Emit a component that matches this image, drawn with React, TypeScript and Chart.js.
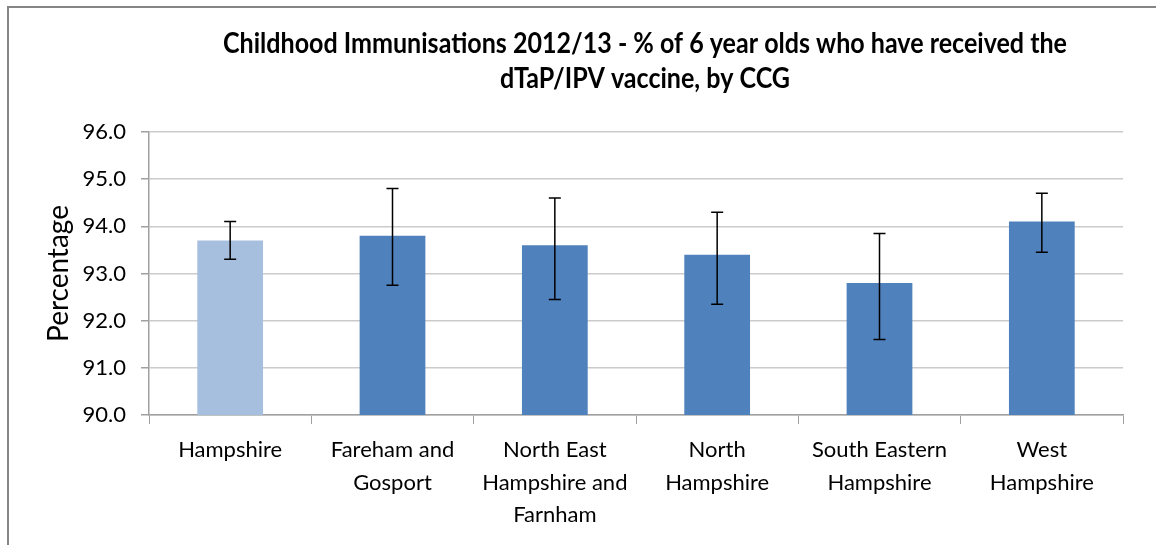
import React, { useEffect, useRef } from "react";
import { Chart, registerables } from "chart.js";

Chart.register(...registerables);

const titleLines = [
  "Childhood Immunisations 2012/13 - % of 6 year olds who have received the",
  "dTaP/IPV vaccine, by CCG",
];
const categories = [
  ["Hampshire"],
  ["Fareham and", "Gosport"],
  ["North East", "Hampshire and", "Farnham"],
  ["North", "Hampshire"],
  ["South Eastern", "Hampshire"],
  ["West", "Hampshire"],
];
const values = [93.7, 93.8, 93.6, 93.4, 92.8, 94.1];
const lowerCI = [93.3, 92.75, 92.45, 92.35, 91.6, 93.45];
const upperCI = [94.1, 94.8, 94.6, 94.3, 93.85, 94.7];
const barColors = ["#A7BFDE", "#4F81BD", "#4F81BD", "#4F81BD", "#4F81BD", "#4F81BD"];
const yTicks = [90, 91, 92, 93, 94, 95, 96];

const W = 1156;
const H = 545;

const framePlugin = {
  id: "frame",
  beforeDraw(chart: any) {
    const ctx = chart.ctx;
    ctx.save();
    ctx.fillStyle = "#ffffff";
    ctx.fillRect(0, 0, chart.width, chart.height);
    ctx.strokeStyle = "#858585";
    ctx.lineWidth = 2;
    ctx.beginPath();
    ctx.moveTo(8, chart.height);
    ctx.lineTo(8, 7);
    ctx.lineTo(chart.width, 7);
    ctx.stroke();
    ctx.restore();
  },
};

const titlePlugin = {
  id: "customTitle",
  afterDraw(chart: any) {
    const ctx = chart.ctx;
    ctx.save();
    ctx.fillStyle = "#000000";
    ctx.font = "bold 28px Lato, 'Liberation Sans', sans-serif";
    ctx.textAlign = "center";
    ctx.textBaseline = "alphabetic";
    const targetWidth = 844;
    const measured = ctx.measureText(titleLines[0]).width;
    const sx = targetWidth / measured;
    const cx = 645;
    const baselines = [53, 88];
    titleLines.forEach((line, i) => {
      ctx.save();
      ctx.translate(cx, baselines[i]);
      ctx.scale(sx, 1);
      ctx.fillText(line, 0, 0);
      ctx.restore();
    });
    ctx.restore();
  },
};

const errorBarPlugin = {
  id: "errorBars",
  afterDatasetsDraw(chart: any) {
    const ctx = chart.ctx;
    const meta = chart.getDatasetMeta(0);
    const yScale = chart.scales.y;
    ctx.save();
    ctx.strokeStyle = "#000000";
    ctx.lineWidth = 1.5;
    meta.data.forEach((bar: any, i: number) => {
      const x = bar.x;
      const yTop = yScale.getPixelForValue(upperCI[i]);
      const yBot = yScale.getPixelForValue(lowerCI[i]);
      const half = 6;
      ctx.beginPath();
      ctx.moveTo(x, yTop);
      ctx.lineTo(x, yBot);
      ctx.moveTo(x - half, yTop);
      ctx.lineTo(x + half, yTop);
      ctx.moveTo(x - half, yBot);
      ctx.lineTo(x + half, yBot);
      ctx.stroke();
    });
    ctx.restore();
  },
};

export default function App() {
  const canvasRef = useRef<HTMLCanvasElement | null>(null);

  useEffect(() => {
    const canvas = canvasRef.current;
    if (!canvas) return;
    const chart = new Chart(canvas, {
      type: "bar",
      data: {
        labels: categories,
        datasets: [
          {
            data: values,
            backgroundColor: barColors,
            borderWidth: 0,
            barPercentage: 0.405,
            categoryPercentage: 1.0,
          },
        ],
      },
      options: {
        responsive: false,
        animation: false,
        devicePixelRatio: 1,
        layout: { padding: { top: 132, left: 0, right: 33, bottom: 0 } },
        plugins: {
          legend: { display: false },
          title: { display: false },
          tooltip: { enabled: false },
        },
        scales: {
          x: {
            offset: true,
            grid: {
              offset: true,
              drawOnChartArea: false,
              drawTicks: true,
              tickLength: 9,
              tickColor: "#A0A0A0",
              color: "#A0A0A0",
            },
            border: { display: true, color: "#A0A0A0", width: 1.5 },
            ticks: {
              color: "#000000",
              padding: 10,
              maxRotation: 0,
              autoSkip: false,
              font: { family: "Lato", size: 22, lineHeight: 1.47 },
            },
            afterFit(scale: any) {
              scale.height = H - 415;
            },
          },
          y: {
            min: yTicks[0],
            max: yTicks[yTicks.length - 1],
            afterBuildTicks(scale: any) {
              scale.ticks = yTicks.map((v) => ({ value: v }));
            },
            grid: {
              color: "#CBCBCB",
              lineWidth: 1.5,
              drawTicks: true,
              tickLength: 8,
              tickColor: "#A0A0A0",
            },
            border: { display: true, color: "#A0A0A0", width: 1.5 },
            ticks: {
              color: "#000000",
              padding: 15,
              font: { family: "Lato", size: 22 },
              callback: (v: any) => Number(v).toFixed(1),
            },
            title: {
              display: true,
              text: "Percentage",
              color: "#000000",
              font: { family: "Lato", size: 28 },
              padding: { top: 42, bottom: 0 },
            },
            afterFit(scale: any) {
              scale.width = 149;
            },
          },
        },
      },
      plugins: [framePlugin, titlePlugin, errorBarPlugin],
    } as any);
    return () => chart.destroy();
  }, []);

  return (
    <div style={{ position: "fixed", left: 0, top: 0, width: W, height: H, background: "#fff" }}>
      <canvas ref={canvasRef} width={W} height={H} style={{ display: "block", width: W, height: H }} />
    </div>
  );
}
